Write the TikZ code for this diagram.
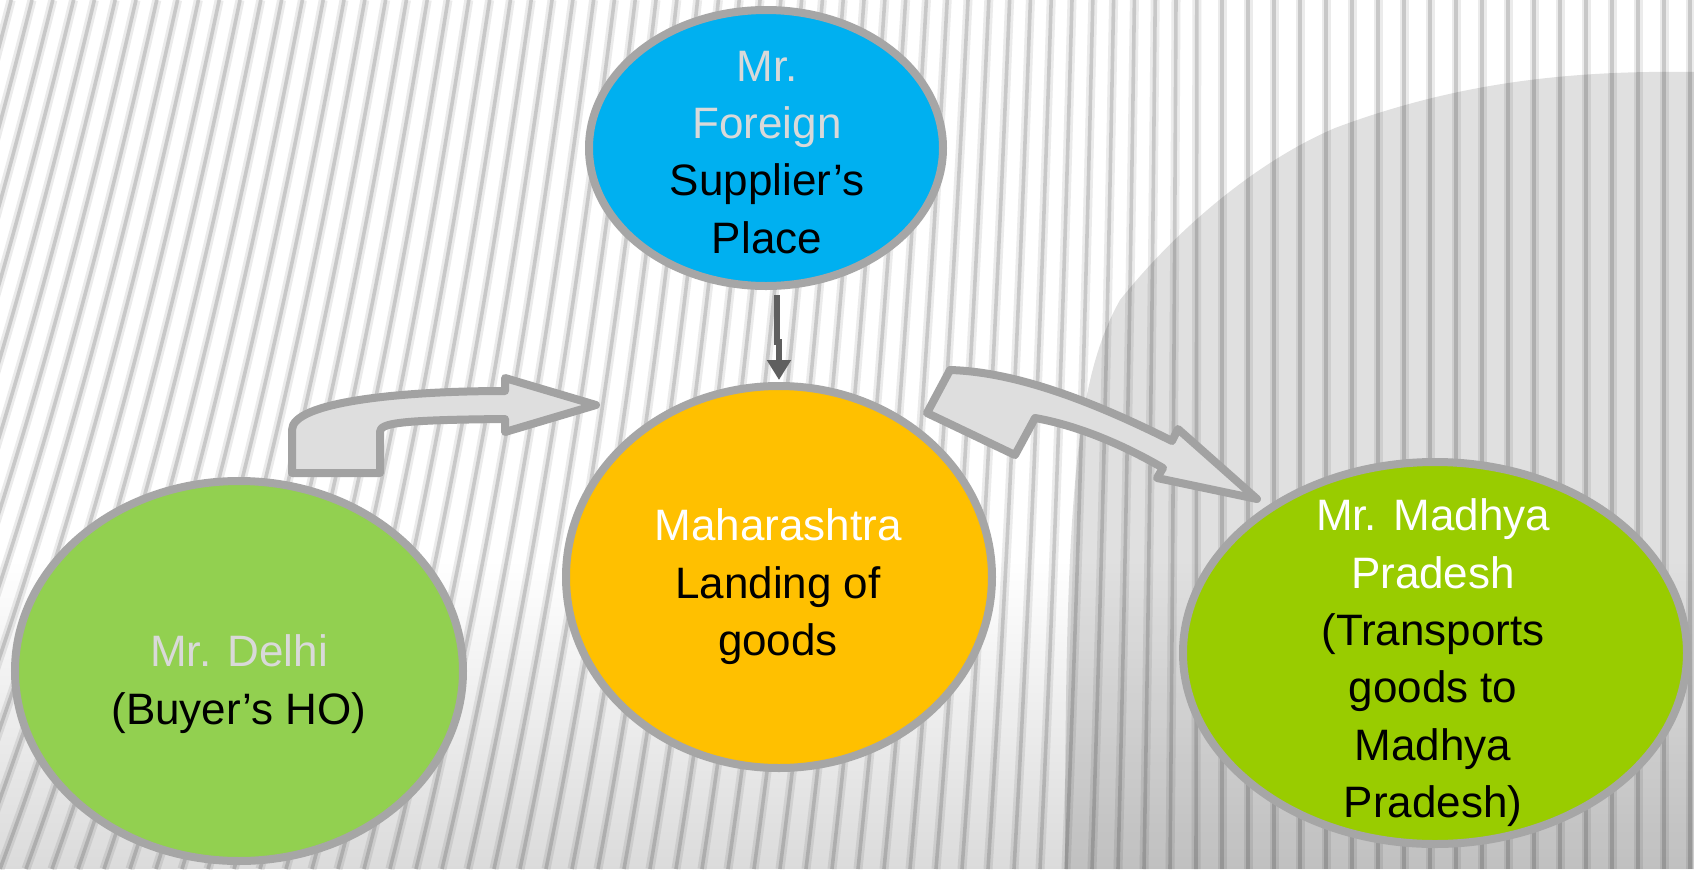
\documentclass[tikz,border=0pt]{standalone}
\usepackage{fontspec}
\setmainfont{Liberation Sans}
\usetikzlibrary{shapes.geometric,arrows.meta,fadings}
\definecolor{cblue}{HTML}{00B0F0}
\definecolor{corange}{HTML}{FFC000}
\definecolor{cgreenA}{HTML}{92D050}
\definecolor{cgreenB}{HTML}{99CC00}
\definecolor{cborder}{HTML}{A6A6A6}
\definecolor{carrowfill}{HTML}{DEDEDE}
\definecolor{carrowline}{HTML}{A2A2A2}
\definecolor{cdown}{HTML}{5F5F5F}
\definecolor{clight}{HTML}{D9D9D9}
\definecolor{cstripe}{HTML}{C8C8C8}
\definecolor{chalo}{HTML}{EBEBEB}
\begin{document}
\begin{tikzpicture}[x=0.5pt,y=-0.5pt,
  ellipsebox/.style={ellipse,draw=cborder,line width=4pt,inner sep=0pt},
  lbl/.style={anchor=north,align=center,inner sep=0pt,font=\fontsize{22}{28.7}\selectfont},
  blockarrow/.style={draw=carrowline,fill=carrowfill,line width=4pt,line join=round},
  darrow/.style={draw=cdown,line width=3pt,-{Triangle[width=11.5pt,length=10pt]}},
  stripehalo/.style={chalo,line width=4.5pt},
  stripe/.style={cstripe,line width=1.8pt}]
\useasboundingbox (0,0) rectangle (1694,869);
\begin{scope}
\clip (0,0) rectangle (1694,869);
\fill[white] (0,0) rectangle (1694,869);
% corrugated background
\foreach \i in {-30,...,70}{
  \pgfmathsetmacro\xb{\i*26}
  \pgfmathsetmacro\s{max(0,300*(1-(\xb+300)/1500))}
  \draw[stripehalo] (\xb,869) .. controls (\xb+0.45*\s,579) and (\xb+0.75*\s,290) .. (\xb+\s,0);
}
\foreach \i in {-30,...,70}{
  \pgfmathsetmacro\xb{\i*26}
  \pgfmathsetmacro\s{max(0,300*(1-(\xb+300)/1500))}
  \draw[stripe] (\xb,869) .. controls (\xb+0.45*\s,579) and (\xb+0.75*\s,290) .. (\xb+\s,0);
}
% shadow on the right
\fill[black,opacity=0.12] (1694,72) .. controls (1560,70) and (1450,85) .. (1335,128)
  .. controls (1260,160) and (1180,225) .. (1120,300)
  .. controls (1075,380) and (1065,500) .. (1065,869) -- (1694,869) -- cycle;
\fill[black,opacity=0.14,path fading=north] (0,560) rectangle (1694,869);
\end{scope}
% ellipses
\node[ellipsebox,fill=cblue,minimum width=177pt,minimum height=138pt] (foreign) at (766,148) {};
\node[ellipsebox,fill=corange,minimum width=213pt,minimum height=191pt] (maha) at (779,577) {};
\node[ellipsebox,fill=cgreenA,minimum width=224pt,minimum height=190pt] (delhi) at (239,671) {};
\node[ellipsebox,fill=cgreenB,minimum width=252pt,minimum height=191pt] (mp) at (1435,653) {};
% labels
\node[lbl] (foreigntext) at (767,50.5) {\textcolor{clight}{Mr.}\\\textcolor{clight}{Foreign}\\Supplier’s\\Place};
\node[lbl] (mahatext) at (778,508.5) {\textcolor{white}{Maharashtra}\\Landing of\\goods};
\node[lbl] (delhitext) at (239,634.5) {\textcolor{clight}{Mr. Delhi}\\(Buyer’s HO)};
\node[lbl] (mptext) at (1433,498.5) {\textcolor{white}{Mr. Madhya}\\\textcolor{white}{Pradesh}\\(Transports\\goods to\\Madhya\\Pradesh)};
% block arrow Delhi -> Maharashtra
\draw[blockarrow] (292,473) -- (380,473) -- (380,432)
  .. controls (380,423) and (400,420) .. (505,419) -- (505,432) -- (596,405)
  -- (505,378) -- (505,391)
  .. controls (400,391) and (292,402) .. (292,430) -- cycle;
% block arrow Maharashtra -> Madhya Pradesh
\draw[blockarrow] (950,370) -- (927,413) -- (1015,455) -- (1035,418)
  .. controls (1075,425) and (1120,443) .. (1163,468) -- (1157,478) -- (1257,499)
  -- (1178,429) -- (1172,441)
  .. controls (1100,405) and (1020,372) .. (950,370) -- cycle;
% connector foreign supplier -> Maharashtra
\draw[darrow,shorten >=1pt] ([xshift=5.5pt,yshift=-2.5pt]foreign.south) -- ++(0,47) -| (maha.north);
\end{tikzpicture}
\end{document}
